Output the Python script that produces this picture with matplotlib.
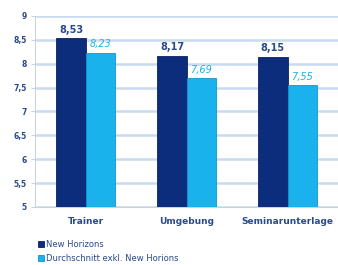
import matplotlib.pyplot as plt
import numpy as np

categories = ["Trainer", "Umgebung", "Seminarunterlage"]
new_horizons = [8.53, 8.17, 8.15]
durchschnitt = [8.23, 7.69, 7.55]
series_names = ["New Horizons", "Durchschnitt exkl. New Horions"]
yticks = [5, 5.5, 6, 6.5, 7, 7.5, 8, 8.5, 9]

dark = "#0c2d7c"
light = "#19b2ec"
txt = "#2a4a8a"

fig = plt.figure(figsize=(3.38, 2.65), dpi=100)
ax = fig.add_axes([0.104, 0.219, 0.896, 0.721])

x = np.arange(len(categories))
w = 0.29
b1 = ax.bar(x - w / 2, new_horizons, w, color=dark, edgecolor="#0a2260", linewidth=0.6, zorder=3)
b2 = ax.bar(x + w / 2, durchschnitt, w, color=light, edgecolor="#1196cc", linewidth=0.6, zorder=3)

for xi, v in zip(x - w / 2, new_horizons):
    ax.text(xi, v + 0.07, f"{v:.2f}".replace(".", ","), ha="center", va="bottom",
            fontsize=7, fontweight="bold", color=txt)
for xi, v in zip(x + w / 2, durchschnitt):
    ax.text(xi, v + 0.07, f"{v:.2f}".replace(".", ","), ha="center", va="bottom",
            fontsize=7, color=light, style="italic")

ax.set_ylim(5, 9)
ax.set_xlim(-0.5, 2.5)
ax.set_yticks(yticks)
ax.set_yticklabels([f"{t:g}".replace(".", ",") for t in yticks], fontsize=5.5,
                   fontweight="bold", color=txt)
ax.set_xticks(x)
ax.set_xticklabels(categories, fontsize=6.5, color=txt, fontweight="semibold")
ax.tick_params(axis="x", length=0, pad=7)
ax.tick_params(axis="y", length=3, color="#c8d3df", pad=3)
ax.grid(axis="y", color="#c9dcee", linewidth=1.8, zorder=0)
for s in ["top", "right"]:
    ax.spines[s].set_visible(False)
ax.spines["left"].set_color("#c8d3df")
ax.spines["bottom"].set_color("#c8d3df")

fig.legend([b1, b2], series_names, loc="lower left", bbox_to_anchor=(0.09, -0.022),
           frameon=False, fontsize=6, labelcolor=txt, handlelength=0.7,
           handleheight=0.7, handletextpad=0.3, labelspacing=0.65)

fig.savefig("out.png", dpi=100)
